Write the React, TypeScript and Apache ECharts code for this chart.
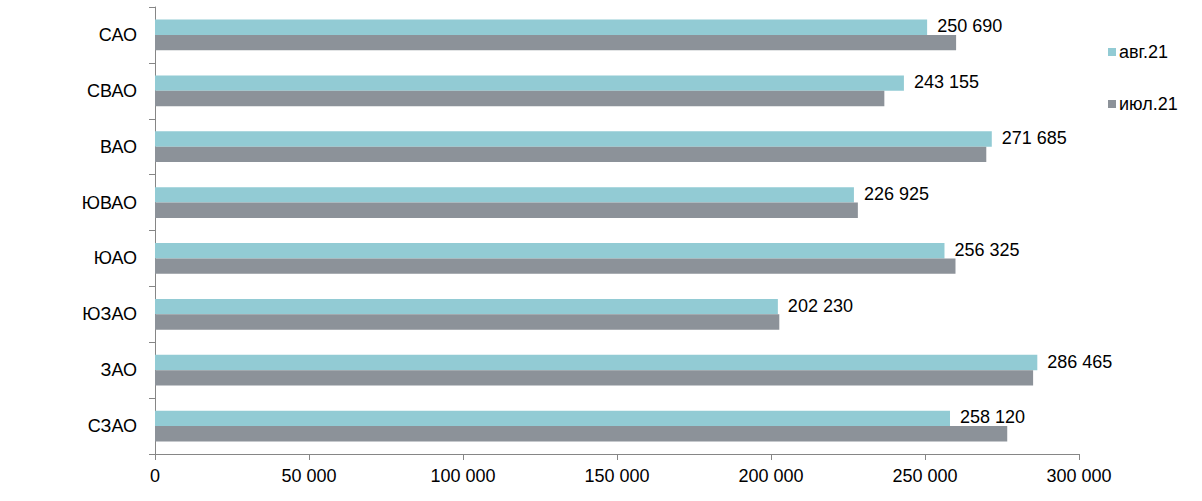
import React, { useEffect, useRef } from "react";
import * as echarts from "echarts";

const categories = ["СЗАО", "ЗАО", "ЮЗАО", "ЮАО", "ЮВАО", "ВАО", "СВАО", "САО"];
const aug21 = [258120, 286465, 202230, 256325, 226925, 271685, 243155, 250690];
const jul21 = [276700, 285100, 202700, 259900, 228200, 269900, 236800, 260100];
const seriesNames = ["авг.21", "июл.21"];
const xTicks = { min: 0, max: 300000, interval: 50000 };

const fmt = (v: number) => {
  const s = String(Math.round(v));
  return s.replace(/\B(?=(\d{3})+(?!\d))/g, " ");
};

const FONT = "'Liberation Sans', Arial, sans-serif";
const TEAL = "#92CBD4";
const GRAY = "#8C9299";
const AXIS = "#868686";
const FS = 18;

export default function App() {
  const ref = useRef<HTMLDivElement>(null);
  useEffect(() => {
    if (!ref.current) return;
    const chart = echarts.init(ref.current, undefined, { renderer: "svg" });
    chart.setOption({
      animation: false,
      textStyle: { fontFamily: FONT },
      grid: { left: 155, right: 123, top: 7, bottom: 47, containLabel: false },
      legend: {
        orient: "vertical",
        left: 1103,
        top: 38,
        data: [seriesNames[0], seriesNames[1]],
        icon: "rect",
        itemWidth: 8,
        itemHeight: 8,
        itemGap: 34,
        textStyle: { fontSize: FS, color: "#000", fontFamily: FONT, padding: [0, 0, 0, -2] },
      },
      xAxis: {
        type: "value",
        min: xTicks.min,
        max: xTicks.max,
        interval: xTicks.interval,
        axisLine: { show: true, lineStyle: { color: AXIS, width: 1 } },
        axisTick: { show: true, length: 6, inside: false, lineStyle: { color: AXIS } },
        splitLine: { show: false },
        axisLabel: { fontSize: FS, color: "#000", margin: 13, formatter: (v: number) => fmt(v), fontFamily: FONT },
      },
      yAxis: {
        type: "category",
        data: categories,
        axisLine: { show: true, lineStyle: { color: AXIS, width: 1 } },
        axisTick: { show: true, length: 6, alignWithLabel: false, lineStyle: { color: AXIS } },
        axisLabel: { fontSize: FS, color: "#000", margin: 18, fontFamily: FONT },
      },
      series: [
        {
          name: seriesNames[0],
          type: "bar",
          data: aug21,
          itemStyle: { color: TEAL },
          barGap: "0%",
          barCategoryGap: "45%",
          label: {
            show: true,
            position: "right",
            distance: 10,
            offset: [0, -1],
            fontSize: FS,
            color: "#000",
            fontFamily: FONT,
            formatter: (p: any) => fmt(p.value),
          },
        },
        {
          name: seriesNames[1],
          type: "bar",
          data: jul21,
          itemStyle: { color: GRAY },
          barGap: "0%",
          barCategoryGap: "45%",
        },
      ],
    });
    return () => chart.dispose();
  }, []);
  return (
    <div
      ref={ref}
      style={{ position: "absolute", left: 0, top: 0, width: 1202, height: 501, background: "#fff" }}
    />
  );
}
